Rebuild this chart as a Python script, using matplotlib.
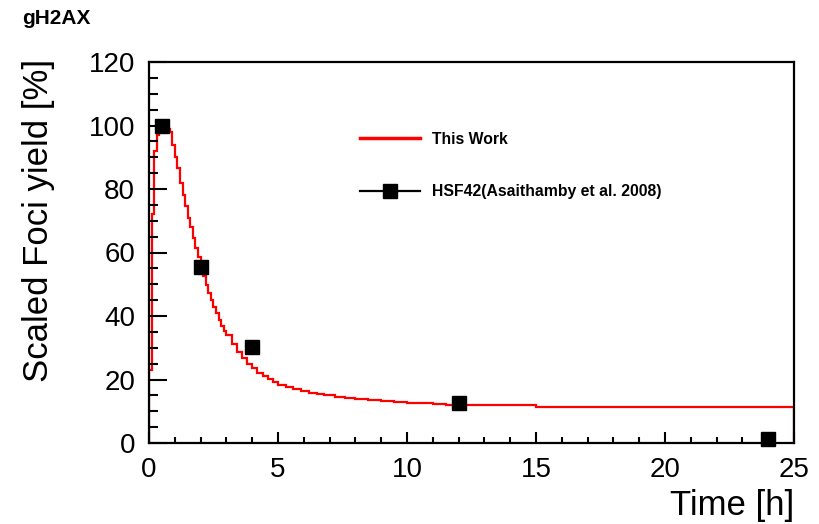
import numpy as np
import matplotlib
matplotlib.use("Agg")
import matplotlib.pyplot as plt
from matplotlib.ticker import MultipleLocator
from matplotlib.lines import Line2D

plt.rcParams['font.family'] = ['Liberation Sans', 'DejaVu Sans']

# model histogram: bin edges in h (last entry is the right edge) and bin contents
bin_edges = [0.0, 0.1, 0.2, 0.3, 0.4, 0.5, 0.6, 0.7, 0.8, 0.9, 1.0,
             1.1, 1.2, 1.3, 1.4, 1.5, 1.6, 1.7, 1.8, 1.9, 2.0,
             2.1, 2.2, 2.3, 2.4, 2.5, 2.6, 2.7, 2.8, 2.9, 3.0,
             3.2, 3.4, 3.6, 3.8, 4.0, 4.2, 4.4, 4.6, 4.8, 5.0,
             5.3, 5.6, 5.9, 6.2, 6.5, 6.8, 7.2, 7.6, 8.0, 8.5,
             9.0, 9.5, 10.0, 10.5, 11.0, 11.5, 12.0, 15.0, 25.0]
model_yield = [23, 72, 92, 97, 100, 101, 100, 99, 98, 94,
               90, 86.5, 82, 78, 74.5, 71, 68, 64.5, 61.5, 58.5,
               55.5, 52.5, 49.8, 47.3, 45, 42.8, 40.8, 38.8, 37, 35.4,
               33.9, 31.2, 28.8, 26.7, 25, 23.5, 22.2, 21.1, 20.1, 19.2,
               18.3, 17.5, 16.9, 16.3, 15.8, 15.4, 15.0, 14.6, 14.2, 13.8,
               13.5, 13.2, 12.9, 12.7, 12.5, 12.3, 12.1, 11.9, 11.3]

# HSF42 measurements
exp_time = [0.5, 2, 4, 12, 24]
exp_yield = [100, 55.5, 30.3, 12.7, 1.4]

fig = plt.figure(figsize=(8.2, 5.24), dpi=100)
ax = fig.add_axes([149 / 820, 1 - 443 / 524, 645 / 820, 381 / 524])

ax.stairs(model_yield, bin_edges, baseline=0, color='#ff0000', lw=1.6)
ax.plot(exp_time, exp_yield, 'ks', ms=10.5, ls='none', clip_on=False)

ax.set_xlim(0, 25)
ax.set_ylim(0, 120)

ax.xaxis.set_major_locator(MultipleLocator(5))
ax.xaxis.set_minor_locator(MultipleLocator(1))
ax.yaxis.set_major_locator(MultipleLocator(20))
ax.yaxis.set_minor_locator(MultipleLocator(5))

ax.tick_params(axis='both', which='both', direction='in', width=1.5,
               labelsize=20, color='black')
ax.tick_params(axis='x', which='major', length=8, pad=10)
ax.tick_params(axis='x', which='minor', length=4)
ax.tick_params(axis='y', which='major', length=13, pad=10)
ax.tick_params(axis='y', which='minor', length=6.5)
for sp in ax.spines.values():
    sp.set_linewidth(1.6)

ax.set_ylabel('Scaled Foci yield [%]', fontsize=25)
ax.yaxis.set_label_coords(-0.146, 0.583)
ax.set_xlabel('Time [h]', fontsize=25, ha='right')
ax.xaxis.set_label_coords(1.0, -0.12)

fig.text(22 / 820, 1 - 19 / 524, 'gH2AX', fontsize=15, fontweight='bold',
         va='center', ha='left')

handles = [Line2D([], [], color='#ff0000', lw=2.5),
           Line2D([], [], color='black', lw=1.6, marker='s', ms=10)]
ax.legend(handles, ['This Work', 'HSF42(Asaithamby et al. 2008)'],
          loc='upper left', bbox_to_anchor=(0.327, 0.817), frameon=False,
          borderpad=0, borderaxespad=0, handlelength=3.8, handletextpad=0.8,
          labelspacing=2.4, prop={'size': 11.3, 'weight': 'bold'})

fig.savefig('out.png', dpi=100)
